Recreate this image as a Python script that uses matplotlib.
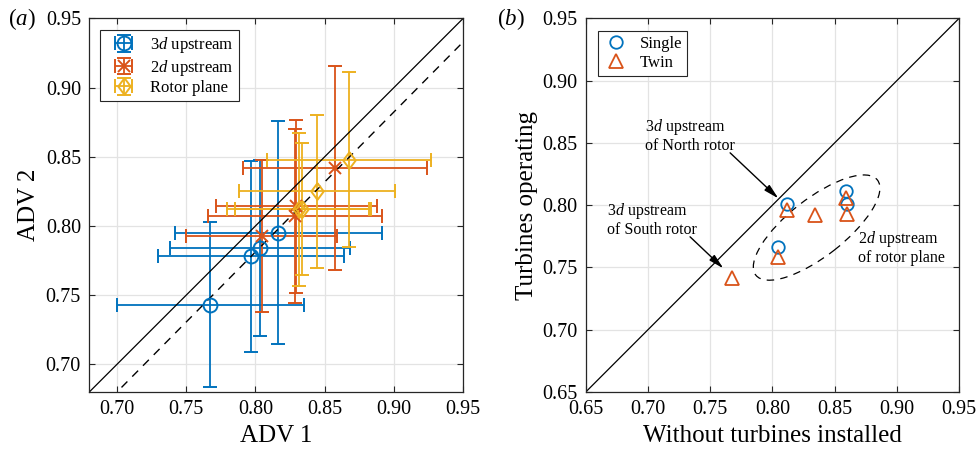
import matplotlib
matplotlib.use("Agg")
import matplotlib.pyplot as plt
from matplotlib.patches import Ellipse

plt.rcParams['font.family'] = ['Liberation Serif', 'DejaVu Serif']
plt.rcParams['mathtext.fontset'] = 'custom'
plt.rcParams['mathtext.rm'] = 'Liberation Serif'
plt.rcParams['mathtext.it'] = 'Liberation Serif:italic'

# ---- Panel (a) data ----
adv1_3d = [0.7675, 0.7966, 0.8031, 0.8166]
adv2_3d = [0.7430, 0.7780, 0.7840, 0.7950]
xerr_3d = [0.0675, 0.0670, 0.0650, 0.0750]
yerr_3d = [0.0595, 0.0690, 0.0635, 0.0805]

adv1_2d = [0.8045, 0.8286, 0.8296, 0.8575]
adv2_2d = [0.7927, 0.8070, 0.8141, 0.8420]
xerr_2d = [0.0545, 0.0628, 0.0580, 0.0666]
yerr_2d = [0.0546, 0.0628, 0.0627, 0.0737]

adv1_rp = [0.8315, 0.8335, 0.8445, 0.8676]
adv2_rp = [0.8120, 0.8123, 0.8249, 0.8478]
xerr_rp = [0.0520, 0.0485, 0.0565, 0.0590]
yerr_rp = [0.0553, 0.0476, 0.0550, 0.0633]

fit_slope = 1.012
fit_intercept = -0.0284

# ---- Panel (b) data ----
single_x = [0.8048, 0.8120, 0.8592, 0.8597]
single_y = [0.7665, 0.8008, 0.8115, 0.8006]
twin_x = [0.7673, 0.8048, 0.8120, 0.8343, 0.8592, 0.8597]
twin_y = [0.7416, 0.7585, 0.7960, 0.7920, 0.8060, 0.7933]

ticks_a = [0.70, 0.75, 0.80, 0.85, 0.90, 0.95]
ticks_b = [0.65, 0.70, 0.75, 0.80, 0.85, 0.90, 0.95]

blue = '#0072BD'
orange = '#D95319'
yellow = '#EDB120'
axcol = '#262626'

fig = plt.figure(figsize=(9.8, 4.51), dpi=100)
axa = fig.add_axes([0.0911, 0.1308, 0.3816, 0.8286])
axb = fig.add_axes([0.5977, 0.1308, 0.3810, 0.8286])


def style(ax, ticks, lim):
    ax.set_xlim(*lim)
    ax.set_ylim(*lim)
    ax.set_xticks(ticks)
    ax.set_yticks(ticks)
    ax.set_xticklabels([f"{t:.2f}" for t in ticks])
    ax.set_yticklabels([f"{t:.2f}" for t in ticks])
    ax.grid(True, color='#e3e3e3', lw=0.9)
    ax.set_axisbelow(True)
    ax.tick_params(direction='in', top=True, right=True, length=4,
                   width=0.8, color=axcol, labelsize=14.5, pad=6)
    for s in ax.spines.values():
        s.set_color(axcol)
        s.set_linewidth(0.9)


style(axa, ticks_a, (0.68, 0.95))
style(axb, ticks_b, (0.65, 0.95))

# Panel (a)
diamond = [(0, 1), (0.75, 0), (0, -1), (-0.75, 0), (0, 1)]
kw = dict(ls='none', capsize=5, elinewidth=1.3, capthick=1.3, mfc='none', mew=1.4)
axa.errorbar(adv1_3d, adv2_3d, xerr=xerr_3d, yerr=yerr_3d, color=blue,
             marker='o', ms=10, label='3$\\it{d}$ upstream', **kw)
axa.errorbar(adv1_2d, adv2_2d, xerr=xerr_2d, yerr=yerr_2d, color=orange,
             marker='x', ms=9, label='2$\\it{d}$ upstream', **kw)
axa.errorbar(adv1_rp, adv2_rp, xerr=xerr_rp, yerr=yerr_rp, color=yellow,
             marker=diamond, ms=12, label='Rotor plane', **kw)
axa.plot([0.68, 0.95], [0.68, 0.95], color='k', lw=0.9)
xl = [0.68, 0.95]
axa.plot(xl, [fit_slope * v + fit_intercept for v in xl], color='k', lw=1.0,
         dashes=(6, 5))
axa.set_xlabel('ADV 1', fontsize=18, labelpad=4)
axa.set_ylabel('ADV 2', fontsize=18, labelpad=4)
leg = axa.legend(loc='upper left', bbox_to_anchor=(0.030, 0.968), borderaxespad=0,
                 fontsize=12, fancybox=False, edgecolor=axcol, framealpha=1,
                 handlelength=2.2, handletextpad=0.5, borderpad=0.3, labelspacing=0.15)
leg.get_frame().set_linewidth(0.8)
fig.text(0.008, 0.958, '($\\it{a}$)', fontsize=16.5, va='center', ha='left')

# Panel (b)
axb.plot([0.65, 0.95], [0.65, 0.95], color='k', lw=0.9)
axb.plot(single_x, single_y, ls='none', marker='o', ms=9, mfc='none',
         mec=blue, mew=1.3, label='Single')
axb.plot(twin_x, twin_y, ls='none', marker='^', ms=10.5, mfc='none',
         mec=orange, mew=1.3, label='Twin')
ell = Ellipse((0.8355, 0.782), width=0.124, height=0.046, angle=38,
              fill=False, ec='k', lw=0.9, ls=(0, (6, 5)))
axb.add_patch(ell)
arrow = dict(arrowstyle='-|>,head_width=0.22,head_length=0.9', color='k', lw=1.0,
             shrinkA=0, shrinkB=0)
axb.annotate('', xy=(0.8048, 0.8054), xytext=(0.766, 0.842), arrowprops=arrow)
axb.annotate('', xy=(0.7606, 0.7492), xytext=(0.7338, 0.7746), arrowprops=arrow)
axb.text(0.6977, 0.856, '3$\\it{d}$ upstream\nof North rotor', fontsize=11.5,
         ha='left', va='center', linespacing=1.1)
axb.text(0.6669, 0.7888, '3$\\it{d}$ upstream\nof South rotor', fontsize=11.5,
         ha='left', va='center', linespacing=1.1)
axb.text(0.8688, 0.7663, '2$\\it{d}$ upstream\nof rotor plane', fontsize=11.5,
         ha='left', va='center', linespacing=1.1)
axb.set_xlabel('Without turbines installed', fontsize=18, labelpad=4)
axb.set_ylabel('Turbines operating', fontsize=18, labelpad=3)
legb = axb.legend(loc='upper left', bbox_to_anchor=(0.033, 0.966), borderaxespad=0,
                  fontsize=12, fancybox=False, edgecolor=axcol, framealpha=1,
                  handlelength=1.6, handletextpad=0.6, borderpad=0.3, labelspacing=0.15)
legb.get_frame().set_linewidth(0.8)
fig.text(0.507, 0.958, '($\\it{b}$)', fontsize=16.5, va='center', ha='left')

fig.savefig('out.png', dpi=100)
